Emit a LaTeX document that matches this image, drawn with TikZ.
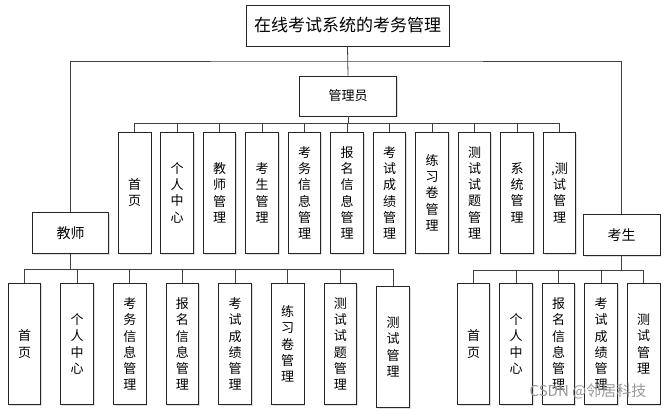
\documentclass[tikz,border=0pt]{standalone}
\usepackage{fontspec}
\newfontfamily\cjk{Noto Sans CJK SC}
\usetikzlibrary{shadows}
\begin{document}
\begin{tikzpicture}[x=1pt,y=-1pt,
  box/.style={draw=black!85, line width=0.9pt, fill=white,
    drop shadow={shadow xshift=1.3pt, shadow yshift=-1.3pt, fill=black!25, opacity=0.5},
    inner sep=0pt, font=\cjk\fontsize{13}{16.3}\selectfont},
  vbox/.style={box, minimum width=32.5pt, minimum height=121pt, align=center},
  hbox/.style={box, minimum width=76.5pt, minimum height=40.5pt, font=\cjk\fontsize{14}{16}\selectfont},
  link/.style={draw=black!75, line width=0.8pt}]
\useasboundingbox (0,0) rectangle (672,410);

% top
\node[box, minimum width=203pt, minimum height=41pt, font=\cjk\fontsize{17}{20}\selectfont] (title) at (347.5,25.5) {在线考试系统的考务管理};
\node[box, minimum width=97pt, minimum height=40pt] (admin) at (348,96) {管理员};
\node[hbox] (teacher) at (70.5,233) {教师};
\node[hbox] (student) at (621.7,235) {考生};

\coordinate (topbus) at (347.5,61);
\coordinate (abus) at (348,123.5);
\coordinate (tbus) at (70.5,269);
\coordinate (sbus) at (621.7,270);

\draw[link] (title.south) -- (admin.north);
\draw[link] (teacher.north) |- (topbus) -| (student.north);

% admin children
\foreach \t [count=\i from 0] in {首\\页, 个\\人\\中\\心, 教\\师\\管\\理, 考\\生\\管\\理, 考\\务\\信\\息\\管\\理, 报\\名\\信\\息\\管\\理, 考\\试\\成\\绩\\管\\理, 练\\习\\卷\\管\\理, 测\\试\\试\\题\\管\\理, 系\\统\\管\\理, {,测}\\试\\管\\理}{
  \node[vbox] (a\i) at ({134.7+42.48*\i},192.7) {\t};
  \draw[link] (a\i.north) |- (abus);
}
\draw[link] (admin.south) -- (abus);

% teacher children
\foreach \t [count=\i from 0] in {首\\页, 个\\人\\中\\心, 考\\务\\信\\息\\管\\理, 报\\名\\信\\息\\管\\理, 考\\试\\成\\绩\\管\\理, 练\\习\\卷\\管\\理, 测\\试\\试\\题\\管\\理}{
  \node[vbox, minimum height=121.7pt] (t\i) at ({24.5+52.64*\i},344) {\t};
  \draw[link] (t\i.north) |- (tbus);
}
\node[vbox, minimum height=121pt] (t7) at (393,347) {测\\试\\管\\理};
\draw[link] (t7.north) |- (tbus);
\draw[link] (teacher.south) -- (tbus);

% student children
\foreach \t [count=\i from 0] in {首\\页, 个\\人\\中\\心, 报\\名\\信\\息\\管\\理, 考\\试\\成\\绩\\管\\理, 测\\试\\管\\理}{
  \node[vbox, minimum height=121.7pt] (s\i) at ({473.5+42.55*\i},344) {\t};
  \draw[link] (s\i.north) |- (sbus);
}
\draw[link] (student.south) -- (sbus);

% watermark
\node[font=\cjk\fontsize{15}{15}\selectfont, text=black!40, inner sep=0pt] (wm) at (588,391) {CSDN @邻居科技};
\end{tikzpicture}
\end{document}
